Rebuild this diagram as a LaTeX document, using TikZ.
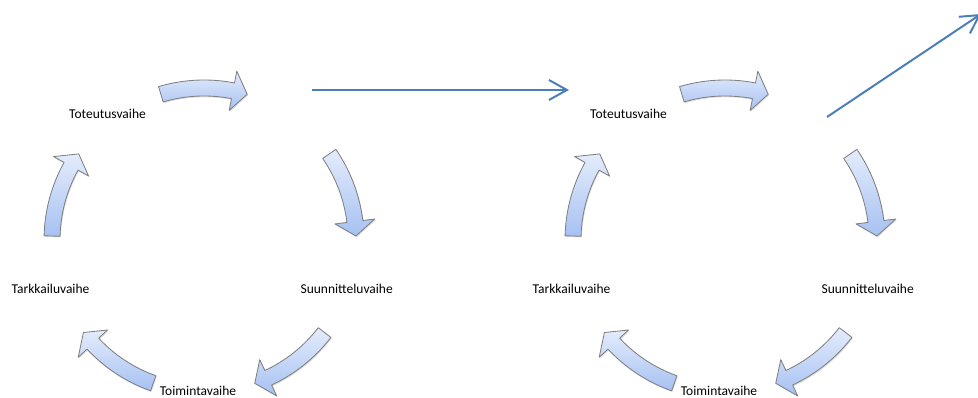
\documentclass[tikz,border=0pt]{standalone}
\usepackage{fontspec}
\setmainfont{Carlito}
\usetikzlibrary{arrows.meta, calc, shadows}

\definecolor{arrowtop}{HTML}{E4ECFC}
\definecolor{arrowbottom}{HTML}{A6C1F2}
\definecolor{arrowgray}{HTML}{808080}
\definecolor{linkblue}{HTML}{4A7EBB}

% curved block arrow of the cycle: #1 centre, #2 middle angle
\newcommand{\cyclearrow}[2]{%
  \draw[blockarrow] ($(#1)+({#2+16.5}:160)$) arc[start angle={#2+16.5}, end angle={#2-11}, radius=160]
    -- ($(#1)+({#2-11}:172)$) -- ($(#1)+({#2-16.5}:152)$) -- ($(#1)+({#2-11}:132)$)
    -- ($(#1)+({#2-11}:144)$) arc[start angle={#2-11}, end angle={#2+16.5}, radius=144] -- cycle;}

\begin{document}
\begin{tikzpicture}[x=0.025cm, y=0.025cm,
    blockarrow/.style={draw=arrowgray, line width=0.6pt, line join=round,
      top color=arrowtop, bottom color=arrowbottom,
      drop shadow={opacity=0.25, shadow xshift=0.6pt, shadow yshift=-0.9pt}},
    stage/.style={font=\fontsize{9.6}{11}\selectfont, inner sep=0pt},
    link/.style={draw=linkblue, line width=1.4pt, -{Straight Barb[length=0.45cm, width=0.5cm]}}]
    \useasboundingbox (0,0) rectangle (978,398);
    \clip (0,0) rectangle (978,398);

    % centres of the two cycles
    \coordinate (c1) at (204,158);
    \coordinate (c2) at (725,158);

    % first cycle
    \node[stage] (tot1) at (107.5,284) {Toteutusvaihe};
    \node[stage] (suu1) at (346.7,109) {Suunnitteluvaihe};
    \node[stage] (toi1) at (198,7) {Toimintavaihe};
    \node[stage] (tar1) at (50.5,109) {Tarkkailuvaihe};

    % second cycle
    \node[stage] (tot2) at (628.5,284) {Toteutusvaihe};
    \node[stage] (suu2) at (867.7,109) {Suunnitteluvaihe};
    \node[stage] (toi2) at (719,7) {Toimintavaihe};
    \node[stage] (tar2) at (571.5,109) {Tarkkailuvaihe};

    % block arrows
    \foreach \a in {90,18,-54,-126,162} {
        \cyclearrow{c1}{\a}
        \cyclearrow{c2}{\a}
    }

    % links between the cycles
    \coordinate (out1) at (312,308);
    \coordinate (in2) at (569,308);
    \coordinate (out2) at (827,281);
    \coordinate (in3) at (981,384);
    \draw[link] (out1) -- (in2);
    \draw[link] (out2) -- (in3);
\end{tikzpicture}
\end{document}
